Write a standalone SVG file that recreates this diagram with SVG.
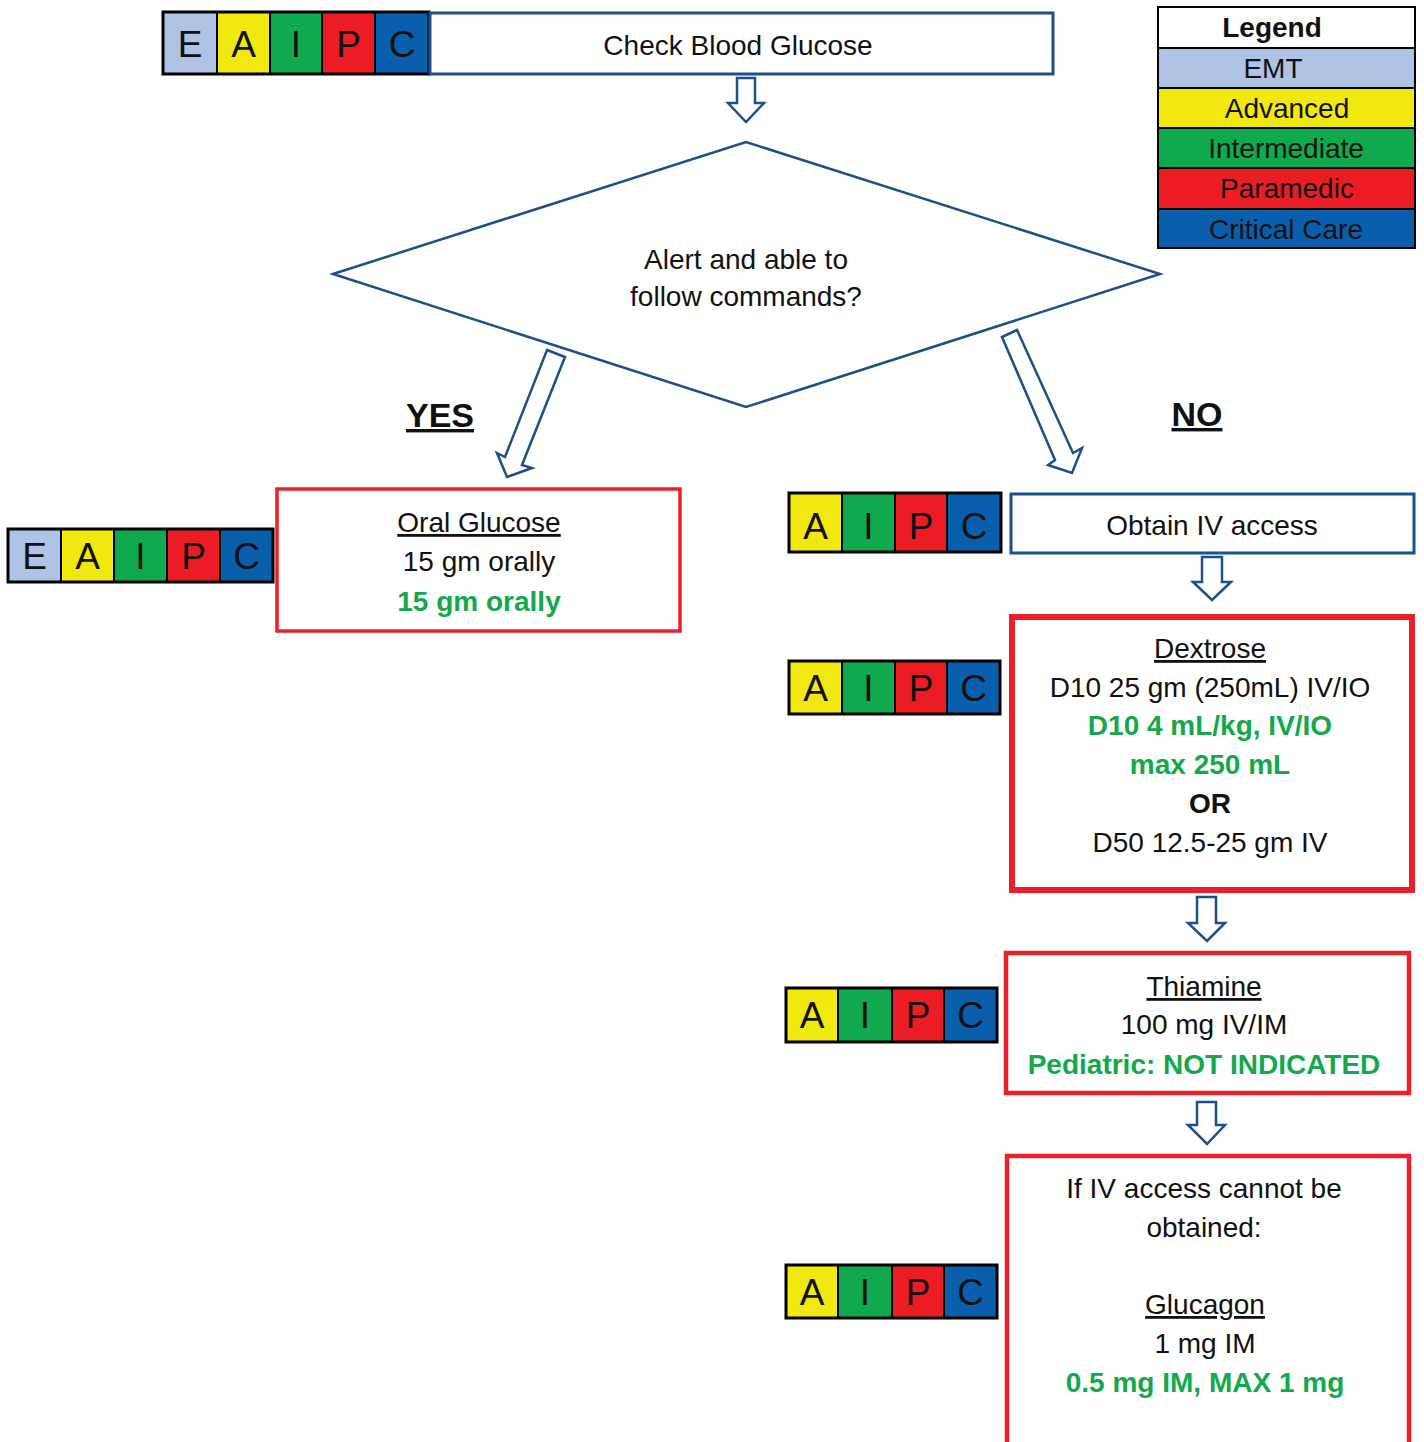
<svg xmlns="http://www.w3.org/2000/svg" width="1424" height="1442" viewBox="0 0 1424 1442">
<style>
text{font-family:"Liberation Sans",Arial,sans-serif;fill:#111;text-anchor:middle}
.t{font-size:28px}
.g{font-size:28px;font-weight:bold;fill:#12a84b}
.b{font-size:28px;font-weight:bold}
.u{text-decoration:underline}
.lg{font-size:28px}
.lt{font-size:37px}
.yn{font-size:34px;font-weight:bold;text-decoration:underline}
.cell{stroke:#000;stroke-width:2}
.outer{fill:none;stroke:#000;stroke-width:3}
.E{fill:#aec3e5}.A{fill:#f0e80e}.I{fill:#11a94e}.P{fill:#ec1c24}.C{fill:#0a5fad}
.bluebox{fill:#fff;stroke:#1c4f8b;stroke-width:3}
.redbox{fill:#fff;stroke:#e8202a}
.arrow{fill:#fff;stroke:#1c4f8b;stroke-width:2.5;stroke-linejoin:miter}
</style>

<g id="legend">
<rect x="1158" y="7" width="257" height="41" fill="#fff" stroke="#000" stroke-width="2"/>
<rect x="1158" y="48" width="257" height="40" class="E cell"/>
<rect x="1158" y="88" width="257" height="40" class="A cell"/>
<rect x="1158" y="128" width="257" height="40" class="I cell"/>
<rect x="1158" y="168" width="257" height="41" class="P cell"/>
<rect x="1158" y="209" width="257" height="39" class="C cell"/>
<text x="1272" y="37" class="lg" font-weight="bold">Legend</text>
<text x="1273" y="78" class="lg">EMT</text>
<text x="1287" y="118" class="lg">Advanced</text>
<text x="1286" y="158" class="lg">Intermediate</text>
<text x="1287" y="198" class="lg">Paramedic</text>
<text x="1286" y="239" class="lg">Critical Care</text>
</g>

<g id="levels-top">
<rect x="163" y="12" width="54" height="62" class="E cell"/>
<rect x="217" y="12" width="53" height="62" class="A cell"/>
<rect x="270" y="12" width="52" height="62" class="I cell"/>
<rect x="322" y="12" width="53" height="62" class="P cell"/>
<rect x="375" y="12" width="54" height="62" class="C cell"/>
<rect x="163" y="12" width="266" height="62" class="outer"/>
<text x="190" y="57" class="lt">E</text>
<text x="243.5" y="57" class="lt">A</text>
<text x="296" y="57" class="lt">I</text>
<text x="348.5" y="57" class="lt">P</text>
<text x="402" y="57" class="lt">C</text>
</g>

<g id="check-glucose">
<rect x="430" y="13" width="623" height="61" class="bluebox"/>
<text x="738" y="55" class="t">Check Blood Glucose</text>
</g>

<g id="decision">
<polygon points="333,274 746,142 1160,274 746,407" fill="#fff" stroke="#1c4f8b" stroke-width="2.5"/>
<text x="746" y="269" class="t">Alert and able to</text>
<text x="746" y="306" class="t">follow commands?</text>
</g>

<g id="label-yes"><text x="440" y="427" class="yn">YES</text></g>
<g id="label-no"><text x="1197" y="426" class="yn">NO</text></g>

<g id="levels-oral">
<rect x="8" y="529" width="53" height="53" class="E cell"/>
<rect x="61" y="529" width="53" height="53" class="A cell"/>
<rect x="114" y="529" width="53" height="53" class="I cell"/>
<rect x="167" y="529" width="53" height="53" class="P cell"/>
<rect x="220" y="529" width="53" height="53" class="C cell"/>
<rect x="8" y="529" width="265" height="53" class="outer"/>
<text x="34.5" y="569" class="lt">E</text>
<text x="87.5" y="569" class="lt">A</text>
<text x="140.5" y="569" class="lt">I</text>
<text x="193.5" y="569" class="lt">P</text>
<text x="246.5" y="569" class="lt">C</text>
</g>

<g id="oral-glucose">
<rect x="277" y="489" width="403" height="142" class="redbox" stroke-width="3.5"/>
<text x="479" y="532" class="t u">Oral Glucose</text>
<text x="479" y="571" class="t">15 gm orally</text>
<text x="479" y="611" class="g">15 gm orally</text>
</g>

<g id="levels-iv">
<rect x="789" y="493" width="53" height="59" class="A cell"/>
<rect x="842" y="493" width="53" height="59" class="I cell"/>
<rect x="895" y="493" width="52" height="59" class="P cell"/>
<rect x="947" y="493" width="54" height="59" class="C cell"/>
<rect x="789" y="493" width="212" height="59" class="outer"/>
<text x="815.5" y="539" class="lt">A</text>
<text x="868.5" y="539" class="lt">I</text>
<text x="921" y="539" class="lt">P</text>
<text x="974" y="539" class="lt">C</text>
</g>

<g id="obtain-iv">
<rect x="1011" y="494" width="403" height="59" class="bluebox"/>
<text x="1212" y="535" class="t">Obtain IV access</text>
</g>

<g id="levels-dextrose">
<rect x="789" y="661" width="53" height="53" class="A cell"/>
<rect x="842" y="661" width="53" height="53" class="I cell"/>
<rect x="895" y="661" width="52" height="53" class="P cell"/>
<rect x="947" y="661" width="53" height="53" class="C cell"/>
<rect x="789" y="661" width="211" height="53" class="outer"/>
<text x="815.5" y="701" class="lt">A</text>
<text x="868.5" y="701" class="lt">I</text>
<text x="921" y="701" class="lt">P</text>
<text x="973.5" y="701" class="lt">C</text>
</g>

<g id="dextrose">
<rect x="1012" y="617" width="400" height="273" class="redbox" stroke-width="6"/>
<text x="1210" y="658" class="t u">Dextrose</text>
<text x="1210" y="697" class="t">D10 25 gm (250mL) IV/IO</text>
<text x="1210" y="735" class="g">D10 4 mL/kg, IV/IO</text>
<text x="1210" y="774" class="g">max 250 mL</text>
<text x="1210" y="813" class="b">OR</text>
<text x="1210" y="852" class="t">D50 12.5-25 gm IV</text>
</g>

<g id="levels-thiamine">
<rect x="786" y="988" width="52" height="54" class="A cell"/>
<rect x="838" y="988" width="54" height="54" class="I cell"/>
<rect x="892" y="988" width="52" height="54" class="P cell"/>
<rect x="944" y="988" width="53" height="54" class="C cell"/>
<rect x="786" y="988" width="211" height="54" class="outer"/>
<text x="812" y="1028" class="lt">A</text>
<text x="865" y="1028" class="lt">I</text>
<text x="918" y="1028" class="lt">P</text>
<text x="970.5" y="1028" class="lt">C</text>
</g>

<g id="thiamine">
<rect x="1006" y="953" width="403" height="140" class="redbox" stroke-width="4.5"/>
<text x="1204" y="996" class="t u">Thiamine</text>
<text x="1204" y="1034" class="t">100 mg IV/IM</text>
<text x="1204" y="1074" class="g">Pediatric: NOT INDICATED</text>
</g>

<g id="levels-glucagon">
<rect x="786" y="1265" width="52" height="53" class="A cell"/>
<rect x="838" y="1265" width="54" height="53" class="I cell"/>
<rect x="892" y="1265" width="52" height="53" class="P cell"/>
<rect x="944" y="1265" width="53" height="53" class="C cell"/>
<rect x="786" y="1265" width="211" height="53" class="outer"/>
<text x="812" y="1305" class="lt">A</text>
<text x="865" y="1305" class="lt">I</text>
<text x="918" y="1305" class="lt">P</text>
<text x="970.5" y="1305" class="lt">C</text>
</g>

<g id="glucagon">
<rect x="1007" y="1156" width="402" height="300" class="redbox" stroke-width="4.5"/>
<text x="1204" y="1198" class="t">If IV access cannot be</text>
<text x="1204" y="1237" class="t">obtained:</text>
<text x="1205" y="1314" class="t u">Glucagon</text>
<text x="1205" y="1353" class="t">1 mg IM</text>
<text x="1205" y="1392" class="g">0.5 mg IM, MAX 1 mg</text>
</g>

<g id="connectors">
<polygon class="arrow" points="737,78 755,78 755,103 764,103 746,122 728,103 737,103"/>
<polygon class="arrow" points="547,350 565,357 522,465 532,468 507,477 497,453 505,457"/>
<polygon class="arrow" points="1002,337 1017,330 1073,453 1082,448 1072,473 1048,465 1055,460"/>
<polygon class="arrow" points="1202,557 1222,557 1222,582 1231,582 1212,600 1193,582 1202,582"/>
<polygon class="arrow" points="1197,897 1216,897 1216,923 1225,923 1207,941 1188,923 1197,923"/>
<polygon class="arrow" points="1197,1102 1216,1102 1216,1125 1225,1125 1207,1144 1188,1125 1197,1125"/>
</g>
</svg>
